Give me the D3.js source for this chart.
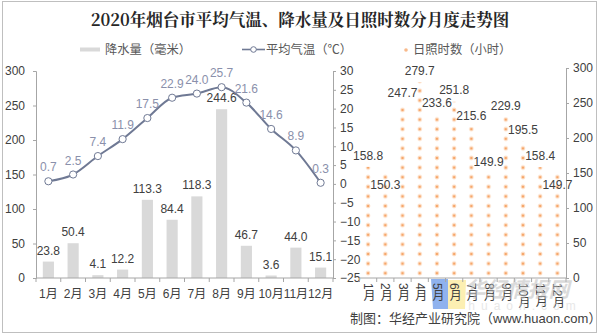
<!DOCTYPE html>
<html><head><meta charset="utf-8">
<script src="https://cdn.jsdelivr.net/npm/d3@7"></script>
<style>body{margin:0;background:#fff}svg{display:block}</style>
</head><body>
<svg id="c" width="600" height="335"></svg>
<script>
const months = ["1月","2月","3月","4月","5月","6月","7月","8月","9月","10月","11月","12月"];
const precipitation = [23.8,50.4,4.1,12.2,113.3,84.4,118.3,244.6,46.7,3.6,44.0,15.1];
const temperature = [0.7,2.5,7.4,11.9,17.5,22.9,24.0,25.7,21.6,14.6,8.9,0.3];
const sunshine = [158.8,150.3,247.7,279.7,233.6,251.8,215.6,149.9,229.9,195.5,158.4,149.7];
const precipTicks = [0,50,100,150,200,250,300];
const tempTicks = [-25,-20,-15,-10,-5,0,5,10,15,20,25,30];
const sunTicks = [0,50,100,150,200,250,300];
const title = "2020年烟台市平均气温、降水量及日照时数分月度走势图";
const legendLabels = ["降水量（毫米）","平均气温（℃）","日照时数（小时）"];
// label placement (layout only): sunshine labels below top for these months
const sunLabelBelow = [false,true,false,false,false,false,false,false,false,false,false,true];

const FONT = "'Liberation Sans','Noto Sans CJK SC',sans-serif";
const svg = d3.select("#c").style("font-family", FONT);
const AX = "#a6a6a6", TXT = "#404040";

// outer frame
svg.append("rect").attr("x",2.5).attr("y",1.5).attr("width",594).attr("height",331)
  .attr("fill","none").attr("stroke","#bfbfbf");

// title
svg.append("text").attr("x",300).attr("y",26).attr("text-anchor","middle")
  .attr("font-size",16.5).attr("font-weight","bold").attr("fill","#262626")
  .attr("font-family","'Noto Serif CJK SC','Noto Sans CJK SC',serif").text(title);

// legend
const lg = svg.append("g").attr("font-size",12.3).attr("fill","#595959")
  .attr("font-family","'Noto Sans CJK SC',sans-serif");
lg.append("rect").attr("x",80).attr("y",47.5).attr("width",20).attr("height",4).attr("fill","#d9d9d9");
lg.append("text").attr("x",105).attr("y",53.5).text(legendLabels[0]);
lg.append("line").attr("x1",242).attr("x2",265).attr("y1",49.5).attr("y2",49.5).attr("stroke","#6f7994").attr("stroke-width",1.6);
lg.append("circle").attr("cx",253.5).attr("cy",49.5).attr("r",2.8).attr("fill","#fff").attr("stroke","#6f7994").attr("stroke-width",1);
lg.append("text").attr("x",266).attr("y",53.5).text(legendLabels[1]);
lg.append("circle").attr("cx",406).attr("cy",50).attr("r",1.8).attr("fill","#f8b98a");
lg.append("text").attr("x",413).attr("y",53.5).text(legendLabels[2]);

// ---------- Left chart ----------
const x = d3.scaleBand().domain(months).range([36,333]).paddingInner(0.55).paddingOuter(0.275);
const xb = d3.scaleBand().domain(months).range([36,333]);
const yP = d3.scaleLinear().domain([0,300]).range([278,71]);
const yT = d3.scaleLinear().domain([-25,30]).range([278,71]);

const gl = svg.append("g").attr("transform","translate(36,0)")
  .call(d3.axisLeft(yP).tickValues(precipTicks).tickSize(3).tickPadding(8));
const gr = svg.append("g").attr("transform","translate(333,0)")
  .call(d3.axisRight(yT).tickValues(tempTicks).tickSize(3).tickPadding(4));
[gl,gr].forEach(g=>{
  g.select(".domain").attr("stroke",AX);
  g.selectAll(".tick line").attr("stroke",AX);
  g.selectAll("text").attr("fill",TXT).attr("font-size",12).attr("font-family",FONT);
});

svg.append("g").selectAll("rect").data(precipitation).join("rect")
  .attr("x",(d,i)=>x(months[i])).attr("width",x.bandwidth())
  .attr("y",d=>yP(d)).attr("height",d=>yP(0)-yP(d)).attr("fill","#d9d9d9");

const gb = svg.append("g").attr("transform","translate(0,278)");
gb.append("line").attr("x1",36).attr("x2",333).attr("stroke",AX);
gb.selectAll("line.t").data(d3.range(13)).join("line").attr("class","t")
  .attr("x1",i=>36+i*xb.step()).attr("x2",i=>36+i*xb.step()).attr("y1",0).attr("y2",4).attr("stroke",AX);
gb.selectAll("text").data(months).join("text")
  .attr("x",d=>xb(d)+xb.bandwidth()/2).attr("y",20).attr("text-anchor","middle")
  .attr("font-size",12).attr("fill",TXT).text(d=>d);

svg.append("g").selectAll("text").data(precipitation).join("text")
  .attr("x",(d,i)=>xb(months[i])+xb.bandwidth()/2).attr("y",d=>yP(d)-7)
  .attr("text-anchor","middle").attr("font-size",12).attr("fill",TXT).text(d=>d.toFixed(1));

const cx = (i)=>xb(months[i])+xb.bandwidth()/2;
svg.append("path").datum(temperature)
  .attr("d", d3.line().x((d,i)=>cx(i)).y(d=>yT(d)).curve(d3.curveMonotoneX))
  .attr("fill","none").attr("stroke","#6f7994").attr("stroke-width",2);
svg.append("g").selectAll("circle").data(temperature).join("circle")
  .attr("cx",(d,i)=>cx(i)).attr("cy",d=>yT(d)).attr("r",3.6)
  .attr("fill","#fff").attr("stroke","#6f7994").attr("stroke-width",1);
svg.append("g").selectAll("text").data(temperature).join("text")
  .attr("x",(d,i)=>cx(i)).attr("y",d=>yT(d)-10)
  .attr("text-anchor","middle").attr("font-size",12).attr("fill","#8a90ab").text(d=>d.toFixed(1));

// ---------- Right chart ----------
const xr = d3.scaleBand().domain(months).range([359.5,566]);
const yS = d3.scaleLinear().domain([0,300]).range([278,68]);

// watermark logo blocks (background)
svg.append("polygon").attr("points","431,279 448,279 448,309 433,309").attr("fill","#8fb2ee");
svg.append("polygon").attr("points","448,280 466,280 465,309 448,309").attr("fill","#fcefb2");

const defs = svg.append("defs");
const pat = defs.append("pattern").attr("id","dots").attr("patternUnits","userSpaceOnUse")
  .attr("x",359.5).attr("y",278).attr("width",xr.step()).attr("height",9.6);
pat.append("circle").attr("cx",xr.step()/2).attr("cy",4.8).attr("r",2.3).attr("fill","#fde0c8");
pat.append("circle").attr("cx",xr.step()/2).attr("cy",4.8).attr("r",1.3).attr("fill","#f6a66a");

svg.append("g").selectAll("rect").data(sunshine).join("rect")
  .attr("x",(d,i)=>xr(months[i])+xr.bandwidth()/2-3).attr("width",6)
  .attr("y",d=>yS(d)).attr("height",d=>yS(0)-yS(d)).attr("fill","url(#dots)");

const gs = svg.append("g").attr("transform","translate(566,0)")
  .call(d3.axisRight(yS).tickValues(sunTicks).tickSize(3).tickPadding(4));
gs.select(".domain").attr("stroke",AX);
gs.selectAll(".tick line").attr("stroke",AX);
gs.selectAll("text").attr("fill",TXT).attr("font-size",12).attr("font-family",FONT);

const gb2 = svg.append("g").attr("transform","translate(0,278)");
gb2.append("line").attr("x1",359.5).attr("x2",566).attr("stroke",AX);
gb2.selectAll("line.t").data(d3.range(13)).join("line").attr("class","t")
  .attr("x1",i=>359.5+i*xr.step()).attr("x2",i=>359.5+i*xr.step()).attr("y1",0).attr("y2",4).attr("stroke",AX);
gb2.selectAll("text").data(months).join("text")
  .attr("x",d=>xr(d)+xr.bandwidth()/2).attr("y",5)
  .attr("font-size",12).attr("fill",TXT)
  .style("writing-mode","vertical-rl").style("text-orientation","mixed")
  .text(d=>d);

svg.append("g").selectAll("text").data(sunshine).join("text")
  .attr("x",(d,i)=>xr(months[i])+xr.bandwidth()/2).attr("y",(d,i)=>yS(d)+(sunLabelBelow[i]?12:-11.5))
  .attr("dy","0.35em").attr("text-anchor","middle").attr("font-size",12).attr("fill",TXT).text(d=>d.toFixed(1));

// footer
svg.append("text").attr("x",350).attr("y",323).attr("font-size",13).attr("fill","#404040")
  .text("制图：华经产业研究院（www.huaon.com）");

// watermark text
svg.append("text").attr("x",517).attr("y",297).attr("text-anchor","middle").attr("font-size",21)
  .attr("font-style","italic").attr("font-weight","bold").attr("fill","#bdbdbd").attr("opacity",0.55)
  .attr("font-family","'Noto Sans CJK SC',sans-serif").text("华经情报网");
svg.append("text").attr("x",525).attr("y",310).attr("text-anchor","middle").attr("font-size",12)
  .attr("letter-spacing",6).attr("fill","#d9d9d9").attr("opacity",0.6).text("huaon.com");
</script>
</body></html>
